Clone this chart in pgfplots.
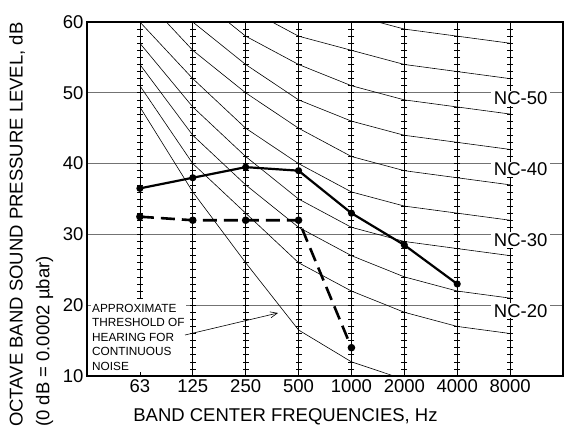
\documentclass[border=0pt]{standalone}
\usepackage{fontspec}
\setmainfont{Liberation Sans}
\usepackage{pgfplots}
\usepackage{pgfplotstable}
\pgfplotsset{compat=1.18}
\usetikzlibrary{arrows.meta}

% NC curves, x index: 0=63 Hz, 1=125, ..., 7=8000 Hz
\pgfplotstableread{
x nc20 nc25 nc30 nc35 nc40 nc45 nc50 nc55 nc60
0 51 54 57 60 64 67 71 74 77
1 40 44 48 52 56 60 64 67 71
2 33 37 41 45 50 54 58 62 67
3 26 31 35 40 45 49 54 58 63
4 22 27 31 36 41 46 51 56 61
5 19 24 29 34 39 44 49 54 59
6 17 22 28 33 38 43 48 53 58
7 16 21 27 32 37 42 47 52 57
}\nccurves

% approximate threshold of hearing
\pgfplotstableread{
x y
0 48
1 36
2 26
3 16.5
4 12
5 9.5
}\threshold

% measured spectra
\pgfplotstableread{
x y
0 36.5
1 38
2 39.5
3 39
4 33
5 28.5
6 23
}\solidline

\pgfplotstableread{
x y
0 32.5
1 32
2 32
3 32
4 14
}\dashedline

% 1 dB ruler marks
\pgfplotstableread{
y
10
11
12
13
14
15
16
17
18
19
20
21
22
23
24
25
26
27
28
29
30
31
32
33
34
35
36
37
38
39
40
41
42
43
44
45
46
47
48
49
50
51
52
53
54
55
56
57
58
59
60
}\rulerticks

\pgfplotsset{
  rulerline/.style={black, line width=0.6pt},
  rulermarks/.style={only marks, mark=-, mark size=3pt, mark options={black, line width=0.6pt}},
}

\begin{document}
\begin{tikzpicture}
\begin{axis}[
  name=ax,
  width=476pt, height=354pt, scale only axis,
  xmin=-1, xmax=8, ymin=10, ymax=60,
  axis line style={line width=2.7pt},
  xtick={0,...,7},
  xticklabels={63,125,250,500,1000,2000,4000,8000},
  ytick={10,20,...,60},
  ymajorgrids,
  grid style={black!55, line width=1.1pt},
  ytick style={draw=none},
  xtick style={line width=0.6pt, black},
  major tick length=4pt,
  tick pos=left,
  tick label style={font=\fontsize{18.5}{20}\selectfont},
  /pgf/number format/assume math mode=true,
  xlabel={BAND CENTER FREQUENCIES, Hz},
  xlabel style={at={(axis description cs:0.417,0)}, anchor=base, yshift=-46pt, font=\fontsize{18.5}{20}\selectfont, inner sep=0pt},
]
% frequency rulers
\addplot[rulerline] coordinates {(0,21) (0,60)};
\addplot[rulerline] coordinates {(1,10) (1,60)};
\addplot[rulerline] coordinates {(2,10) (2,60)};
\addplot[rulerline] coordinates {(3,10) (3,60)};
\addplot[rulerline] coordinates {(4,10) (4,60)};
\addplot[rulerline] coordinates {(5,10) (5,60)};
\addplot[rulerline] coordinates {(6,10) (6,60)};
\addplot[rulerline] coordinates {(7,10) (7,60)};
\addplot[rulermarks, restrict y to domain=21:60] table[x expr=0, y=y] \rulerticks;
\addplot[rulermarks] table[x expr=1, y=y] \rulerticks;
\addplot[rulermarks] table[x expr=2, y=y] \rulerticks;
\addplot[rulermarks] table[x expr=3, y=y] \rulerticks;
\addplot[rulermarks] table[x expr=4, y=y] \rulerticks;
\addplot[rulermarks] table[x expr=5, y=y] \rulerticks;
\addplot[rulermarks] table[x expr=6, y=y] \rulerticks;
\addplot[rulermarks] table[x expr=7, y=y] \rulerticks;

% NC curves
\addplot[black, line width=0.6pt] table[x=x, y=nc20] \nccurves;
\addplot[black, line width=0.6pt] table[x=x, y=nc25] \nccurves;
\addplot[black, line width=0.6pt] table[x=x, y=nc30] \nccurves;
\addplot[black, line width=0.6pt] table[x=x, y=nc35] \nccurves;
\addplot[black, line width=0.6pt] table[x=x, y=nc40] \nccurves;
\addplot[black, line width=0.6pt] table[x=x, y=nc45] \nccurves;
\addplot[black, line width=0.6pt] table[x=x, y=nc50] \nccurves;
\addplot[black, line width=0.6pt] table[x=x, y=nc55] \nccurves;
\addplot[black, line width=0.6pt] table[x=x, y=nc60] \nccurves;
\addplot[black, line width=0.6pt] table[x=x, y=y] \threshold;

% spectra
\addplot[black, line width=2.2pt, mark=*, mark size=2.4pt] table[x=x, y=y] \solidline;
\addplot[black, line width=2.6pt, dash pattern=on 14pt off 7pt, mark=*, mark size=2.4pt, mark options={solid}] table[x=x, y=y] \dashedline;

\coordinate (l50) at (axis cs:7.2,50);
\coordinate (l40) at (axis cs:7.2,40);
\coordinate (l30) at (axis cs:7.2,30);
\coordinate (l20) at (axis cs:7.2,20);
\coordinate (ann) at (axis cs:-0.934,20.38);
\coordinate (arrA) at (axis cs:0.853,15.79);
\coordinate (arrB) at (axis cs:2.611,18.9);
\end{axis}
% NC labels
\foreach \v in {50,40,30,20} {
  \node[fill=white, inner xsep=3pt, inner ysep=1pt, anchor=base, font=\fontsize{18.5}{20}\selectfont] at ([yshift=-12pt]l\v) {NC-\v};
}
% annotation
\node[fill=white, inner sep=1.5pt, anchor=north west, align=left, font=\fontsize{11.8}{14.5}\selectfont] at (ann)
  {APPROXIMATE\\THRESHOLD OF\\HEARING FOR\\CONTINUOUS\\NOISE};
\draw[line width=0.6pt, -{Straight Barb[length=7pt, width=6pt]}] (arrA) -- (arrB);
\node[rotate=90, anchor=base west, inner sep=0pt, font=\fontsize{18.5}{20}\selectfont] at ([shift={(-64.3pt,-51pt)}]ax.south west) {OCTAVE BAND SOUND PRESSURE LEVEL, dB};
\node[rotate=90, anchor=base west, inner sep=0pt, font=\fontsize{18.5}{20}\selectfont] at ([shift={(-37.7pt,-51pt)}]ax.south west) {(0 dB = 0.0002 µbar)};
\pgfresetboundingbox
\path[use as bounding box] ([shift={(-87pt,-52pt)}]ax.south west) rectangle ([shift={(2pt,22pt)}]ax.north east);
\end{tikzpicture}
\end{document}
